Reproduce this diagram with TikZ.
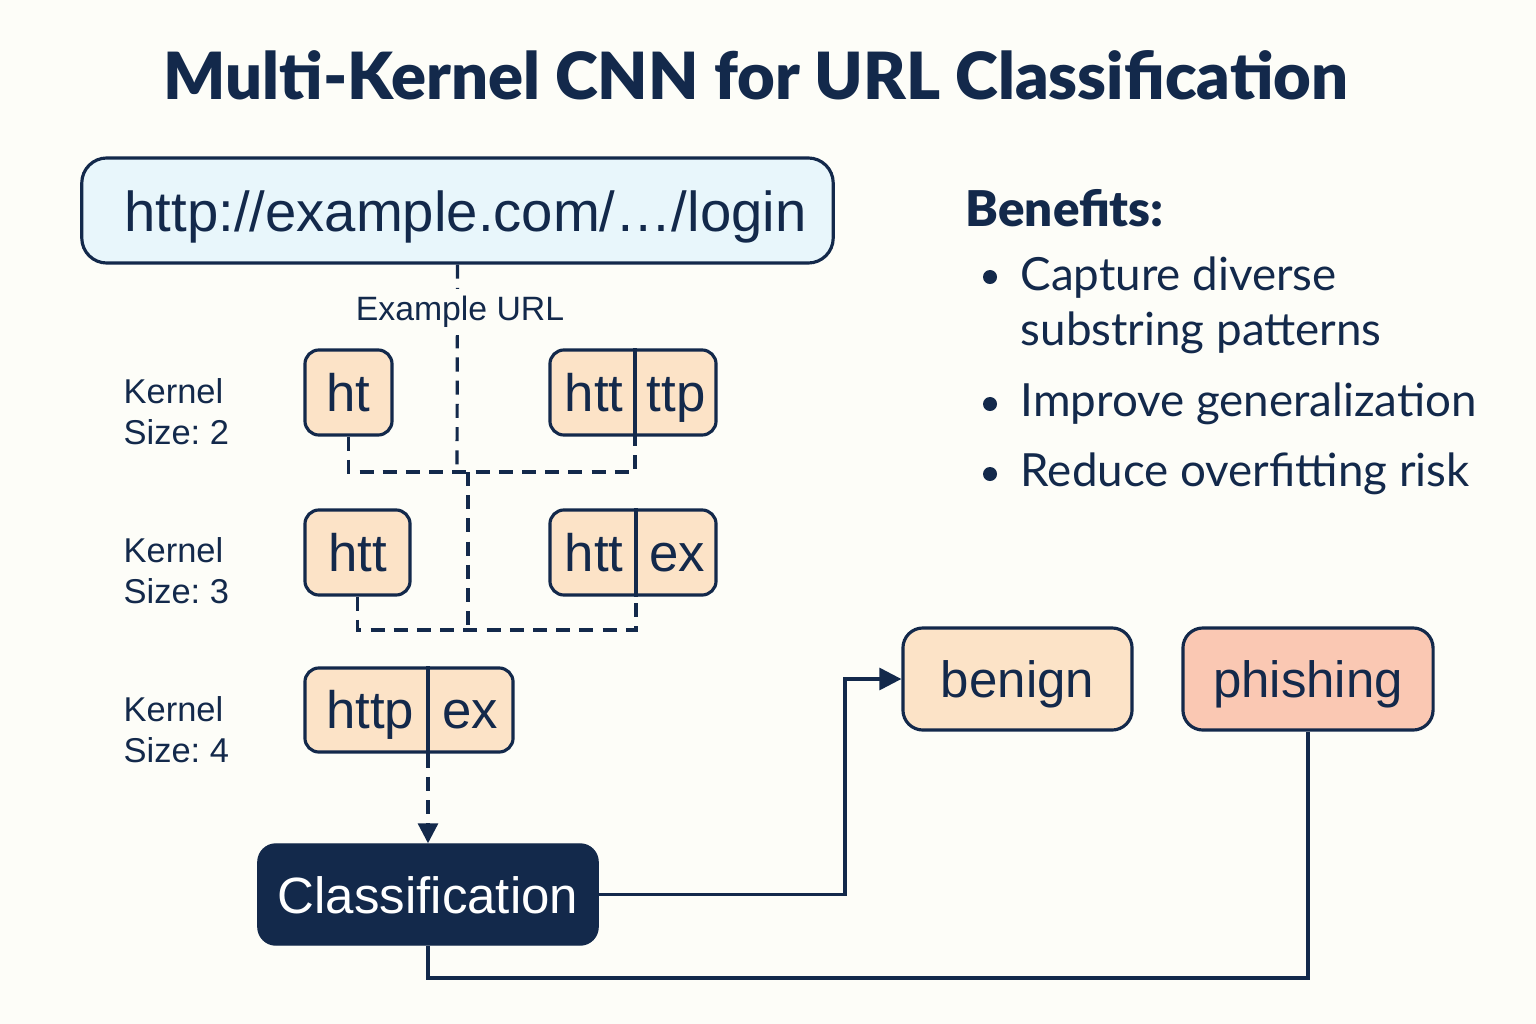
\documentclass[tikz,border=0pt]{standalone}
\usepackage{fontspec}
\usepackage{xcolor}
\usepackage{tikz}
\usetikzlibrary{arrows.meta}
\usetikzlibrary{positioning}
\setmainfont{Liberation Sans}
\newfontfamily\latofont{Lato}
\newfontfamily\latobold{Lato Black}
\definecolor{navy}{HTML}{13294B}
\definecolor{peach}{HTML}{FCE3C7}
\definecolor{salmon}{HTML}{FAC8B3}
\definecolor{urlblue}{HTML}{E8F6FB}
\definecolor{paper}{HTML}{FDFDF8}
\frenchspacing
\tikzset{
    gram/.style={
        draw=navy,
        fill=peach,
        line width=0.9pt,
        rounded corners=0.14cm,
        minimum height=0.85cm,
        inner sep=0pt
    },
    gramtext/.style={
        text=navy,
        inner sep=0pt,
        text height=10.8pt,
        text depth=0pt,
        font=\fontsize{15}{18}\selectfont
    },
    klabel/.style={
        anchor=west,
        align=left,
        text=navy,
        inner sep=0pt,
        font=\fontsize{9.8}{11.7}\selectfont
    },
    outbox/.style={
        draw=navy,
        line width=0.9pt,
        rounded corners=0.2cm,
        minimum height=1.02cm,
        text height=10.6pt,
        text depth=0pt,
        text=navy,
        font=\fontsize{14.5}{17}\selectfont
    },
    dashline/.style={
        draw=navy,
        line width=0.9pt,
        dash pattern=on 4pt off 2.6pt
    },
    flow/.style={
        draw=navy,
        line width=0.9pt
    },
    benefit/.style={
        anchor=west,
        align=left,
        text=navy,
        inner sep=0pt,
        font=\latofont\fontsize{13}{15.6}\selectfont
    }
}

\begin{document}
\begin{tikzpicture}[x=0.01cm, y=-0.01cm]
    \fill[paper] (0,0) rectangle (1536,1024);
    \useasboundingbox (0,0) rectangle (1536,1024);

    \node[text=navy, font=\latobold\fontsize{18.5}{22}\selectfont] (title) at (756,75) {Multi-Kernel CNN for URL Classification};

    \node[draw=navy, fill=urlblue, line width=0.9pt, rounded corners=0.25cm, minimum width=7.51cm, minimum height=1.05cm, text height=12.2pt, text depth=0pt, text=navy, font=\fontsize{16}{19}\selectfont] (url) at (457.5,210.5) {\hspace{0.16cm}http://example.com/…/login};

    % kernel size 2
    \node[klabel] (k2lab) at (123,412) {Kernel\\Size: 2};
    \node[gram, minimum width=0.87cm] (k2a) at (348.5,392.5) {};
    \node[gramtext] (k2at) at (k2a) {ht};
    \node[gram, minimum width=1.66cm] (k2b) at (633,392.5) {};
    \node[gramtext] (k2bl) at (594,392.5) {htt};
    \node[gramtext] (k2br) at (676,392.5) {ttp};
    \coordinate (k2u) at (k2b.north -| 635,0);
    \coordinate (k2d) at (k2b.south -| 635,0);
    \draw[flow] (k2u) -- (k2d);

    % kernel size 3
    \node[klabel] (k3lab) at (123,571) {Kernel\\Size: 3};
    \node[gram, minimum width=1.05cm] (k3a) at (357.5,552.5) {};
    \node[gramtext] (k3at) at (k3a) {htt};
    \node[gram, minimum width=1.66cm] (k3b) at (633,552.5) {};
    \node[gramtext] (k3bl) at (594,552.5) {htt};
    \node[gramtext] (k3br) at (677,552.5) {ex};
    \coordinate (k3u) at (k3b.north -| 636,0);
    \coordinate (k3d) at (k3b.south -| 636,0);
    \draw[flow] (k3u) -- (k3d);

    % kernel size 4
    \node[klabel] (k4lab) at (123,730) {Kernel\\Size: 4};
    \node[gram, minimum width=2.08cm, minimum height=0.84cm] (k4) at (409,710) {};
    \node[gramtext] (k4l) at (370,710) {http};
    \node[gramtext] (k4r) at (470,710) {ex};
    \coordinate (k4u) at (k4.north -| 428,0);
    \coordinate (k4d) at (k4.south -| 428,0);
    \draw[flow] (k4u) -- (k4d);

    \node[draw=navy, fill=navy, rounded corners=0.18cm, minimum width=3.4cm, minimum height=1.01cm, text height=10.6pt, text depth=0pt, text=white, font=\fontsize{14.5}{17}\selectfont] (class) at (428,894.5) {Classification};

    \node[outbox, fill=peach, minimum width=2.29cm] (benign) at (1017.5,679) {benign};
    \node[outbox, fill=salmon, minimum width=2.5cm] (phish) at (1308,679) {phishing};

    % dashed tree
    \coordinate (j2) at (457,472);
    \coordinate (j3) at (468,630);
    \draw[dashline] (url.south) -- (j2);
    \draw[dashline] (k2a.south) |- (j2) -| (k2d);
    \draw[dashline] (j2 -| j3) -- (j3);
    \draw[dashline] (k3a.south) |- (j3) -| (k3d);
    \draw[dashline, -{Triangle[length=0.2cm, width=0.2cm]}] (k4d) -- (class.north);

    \node[fill=paper, text=navy, inner sep=2pt, font=\fontsize{9.6}{11.5}\selectfont] (ulab) at (460,312) {Example URL};

    % outputs
    \coordinate (elbow) at (845,894.5);
    \coordinate (floor) at (428,978);
    \draw[flow, -{Triangle[length=0.22cm, width=0.22cm]}] (class.east) -- (elbow) |- (benign.west);
    \draw[flow] (phish.south) |- (floor) -- (class.south);

    % benefits
    \node[anchor=west, inner sep=0pt, text=navy, font=\latobold\fontsize{14}{16.8}\selectfont] (bhead) at (965,208) {Benefits:};
    \node[benefit] (b1) at (1020,305) {Capture diverse\\substring patterns};
    \node[benefit] (b2) at (1020,404) {Improve generalization};
    \node[benefit] (b3) at (1020,474) {Reduce overfitting risk};
    \fill[navy] (990,277) circle (0.07cm);
    \fill[navy] (990,404) circle (0.07cm);
    \fill[navy] (990,474) circle (0.07cm);
\end{tikzpicture}
\end{document}
